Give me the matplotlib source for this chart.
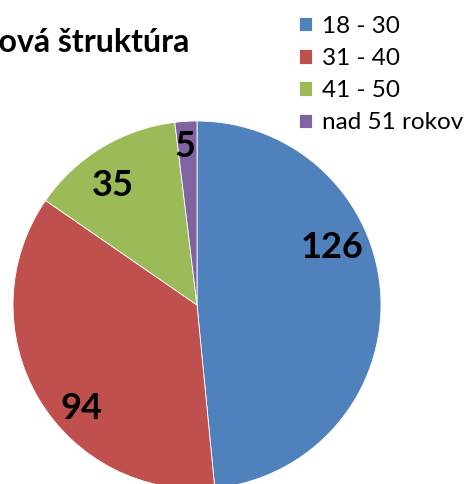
import matplotlib
matplotlib.use("Agg")
import matplotlib.pyplot as plt

# data
categories = ["18 - 30", "31 - 40", "41 - 50", "nad 51 rokov"]
counts = [126, 94, 35, 5]
colors = ["#4F81BD", "#C0504D", "#9BBB59", "#8064A2"]
title = "Veková štruktúra"

# label positions inside the pie (in radius units)
label_pos = [(0.736, 0.310), (-0.630, -0.560), (-0.457, 0.647), (-0.065, 0.864)]

plt.rcParams['font.family'] = ['Lato', 'DejaVu Sans']

W, H = 465, 484
fig = plt.figure(figsize=(W / 100, H / 100), dpi=100)

# pie axes: centre (197, 305) px, radius 184 px
cx, cy, r = 197, 305, 184
ax = fig.add_axes([(cx - r) / W, (H - cy - r) / H, 2 * r / W, 2 * r / H])
wedges, _ = ax.pie(counts, colors=colors, startangle=90, counterclock=False,
                   radius=1, wedgeprops=dict(edgecolor="white", linewidth=0.6))
ax.set_xlim(-1, 1)
ax.set_ylim(-1, 1)
ax.set_aspect("equal")
ax.axis("off")

for val, (lx, ly) in zip(counts, label_pos):
    ax.text(lx, ly, str(val), ha="center", va="center",
            fontsize=26, fontweight="bold", color="black")

# title, cut off on the left like in the source
fig.text(190 / W, (H - 52) / H, title, ha="right", va="baseline",
         fontsize=23, fontweight="bold")

# legend: first square centred ~24 px from top, rows ~32 px apart
fs = 17.5
first_y, step, sq_left = 24, 32.3, 299


def make_legend(top, spacing):
    return fig.legend(wedges, categories, loc="upper left",
                      bbox_to_anchor=(sq_left / W, (H - top) / H),
                      frameon=False, borderpad=0, borderaxespad=0,
                      handlelength=0.55, handleheight=0.55, handletextpad=0.4,
                      labelspacing=spacing, fontsize=fs)


top, spacing = 15, 0.33
for _ in range(3):
    leg = make_legend(top, spacing)
    fig.canvas.draw()
    ys = [H - p.get_window_extent().y0 - p.get_window_extent().height / 2
          for p in leg.get_patches()]
    cur_step = (ys[-1] - ys[0]) / (len(ys) - 1)
    spacing += (step - cur_step) / (fs * 100 / 72)
    top += first_y - ys[0]
    leg.remove()
make_legend(top, spacing)

fig.savefig("out.png", dpi=100)
